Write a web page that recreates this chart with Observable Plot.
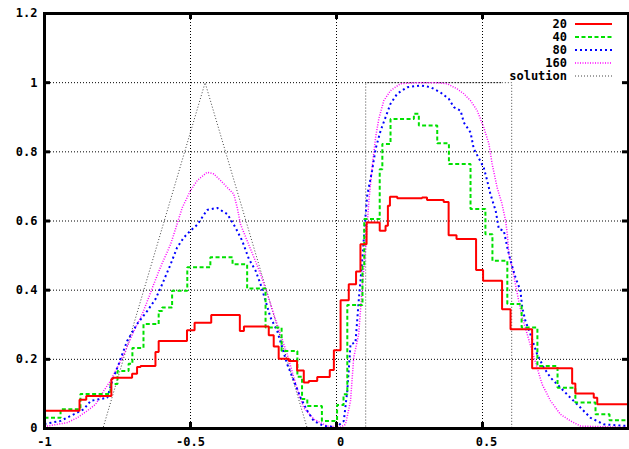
<!DOCTYPE html>
<html>
<head>
<meta charset="utf-8">
<script src="https://cdn.jsdelivr.net/npm/d3@7"></script>
<script src="https://cdn.jsdelivr.net/npm/@observablehq/plot@0.6"></script>
<style>
  html, body { margin: 0; padding: 0; background: #fff; }
  #chart svg { display: block; }
</style>
</head>
<body>
<div id="chart"></div>
<script>
// ---- data ----
const seriesNames = ["20", "40", "80", "160", "solution"];
const xTicks = [-1, -0.5, 0, 0.5, 1];
const xTickLabels = ["-1", "-0.5", "0", "0.5", "1"];
const yTicks = [0, 0.2, 0.4, 0.6, 0.8, 1, 1.2];
const yTickLabels = ["0", "0.2", "0.4", "0.6", "0.8", "1", "1.2"];

// 20: piecewise constant, [x start, value]
const s20 = [[-1,0.051],[-0.880,0.083],[-0.857,0.094],[-0.771,0.143],[-0.766,0.147],[-0.700,0.158],[-0.683,0.178],[-0.671,0.181],[-0.620,0.221],[-0.609,0.253],[-0.512,0.284],[-0.486,0.306],[-0.429,0.328],[-0.331,0.282],[-0.317,0.295],[-0.232,0.270],[-0.215,0.237],[-0.198,0.202],[-0.163,0.195],[-0.135,0.168],[-0.112,0.133],[-0.095,0.137],[-0.066,0.149],[-0.023,0.169],[-0.009,0.226],[0.014,0.371],[0.042,0.417],[0.067,0.454],[0.082,0.533],[0.103,0.596],[0.148,0.572],[0.168,0.586],[0.176,0.644],[0.183,0.670],[0.208,0.666],[0.293,0.668],[0.310,0.661],[0.367,0.655],[0.384,0.559],[0.411,0.548],[0.478,0.458],[0.502,0.427],[0.567,0.345],[0.596,0.287],[0.670,0.174],[0.807,0.130],[0.818,0.101],[0.881,0.089],[0.893,0.070],[1,0.070]];

// 40: piecewise constant
const s40 = [[-1,0.031],[-0.945,0.056],[-0.877,0.100],[-0.774,0.129],[-0.750,0.166],[-0.712,0.187],[-0.699,0.233],[-0.661,0.302],[-0.609,0.340],[-0.597,0.350],[-0.563,0.398],[-0.511,0.466],[-0.432,0.495],[-0.356,0.475],[-0.306,0.405],[-0.243,0.292],[-0.188,0.224],[-0.134,0.150],[-0.118,0.085],[-0.100,0.065],[-0.050,0.022],[0.002,0.068],[0.024,0.099],[0.037,0.357],[0.089,0.470],[0.095,0.606],[0.148,0.750],[0.157,0.823],[0.185,0.895],[0.265,0.910],[0.282,0.876],[0.345,0.825],[0.385,0.765],[0.459,0.635],[0.510,0.562],[0.534,0.485],[0.585,0.360],[0.634,0.292],[0.688,0.181],[0.757,0.118],[0.818,0.075],[0.887,0.041],[0.935,0.024],[1,0.024]];

// 80
const s80 = [[-1,0.013],[-0.945,0.022],[-0.900,0.041],[-0.865,0.056],[-0.842,0.080],[-0.785,0.089],[-0.768,0.138],[-0.746,0.186],[-0.717,0.253],[-0.683,0.302],[-0.648,0.340],[-0.620,0.374],[-0.597,0.417],[-0.568,0.475],[-0.546,0.523],[-0.523,0.552],[-0.500,0.572],[-0.477,0.589],[-0.443,0.632],[-0.409,0.638],[-0.374,0.620],[-0.346,0.581],[-0.323,0.543],[-0.300,0.490],[-0.277,0.456],[-0.260,0.417],[-0.243,0.369],[-0.226,0.321],[-0.203,0.282],[-0.186,0.234],[-0.169,0.186],[-0.146,0.138],[-0.123,0.089],[-0.100,0.051],[-0.078,0.022],[-0.043,0.007],[0.000,0.004],[0.025,0.022],[0.037,0.109],[0.048,0.244],[0.065,0.248],[0.076,0.369],[0.088,0.485],[0.099,0.610],[0.105,0.673],[0.122,0.746],[0.134,0.809],[0.151,0.861],[0.168,0.900],[0.185,0.939],[0.208,0.968],[0.242,0.987],[0.288,0.992],[0.322,0.987],[0.356,0.972],[0.385,0.953],[0.402,0.929],[0.425,0.919],[0.436,0.885],[0.459,0.856],[0.470,0.809],[0.504,0.755],[0.516,0.717],[0.527,0.678],[0.545,0.630],[0.556,0.577],[0.573,0.572],[0.585,0.523],[0.596,0.485],[0.613,0.437],[0.630,0.398],[0.636,0.350],[0.647,0.311],[0.664,0.273],[0.687,0.215],[0.710,0.176],[0.733,0.147],[0.767,0.118],[0.801,0.089],[0.836,0.060],[0.870,0.031],[0.915,0.012],[1,0.007]];

// 160
const s160 = [[-1,0.005],[-0.991,0.007],[-0.922,0.017],[-0.888,0.031],[-0.854,0.051],[-0.825,0.070],[-0.797,0.109],[-0.774,0.138],[-0.751,0.176],[-0.723,0.224],[-0.694,0.282],[-0.665,0.331],[-0.643,0.379],[-0.626,0.417],[-0.603,0.466],[-0.568,0.533],[-0.546,0.591],[-0.528,0.639],[-0.500,0.688],[-0.477,0.717],[-0.443,0.741],[-0.420,0.736],[-0.397,0.717],[-0.374,0.697],[-0.352,0.678],[-0.340,0.639],[-0.329,0.591],[-0.306,0.543],[-0.283,0.495],[-0.260,0.446],[-0.237,0.389],[-0.215,0.331],[-0.192,0.273],[-0.169,0.215],[-0.146,0.147],[-0.129,0.099],[-0.112,0.060],[-0.078,0.027],[-0.032,0.007],[0.014,0.004],[0.031,0.012],[0.048,0.080],[0.059,0.205],[0.076,0.273],[0.088,0.408],[0.099,0.514],[0.111,0.659],[0.122,0.755],[0.134,0.842],[0.145,0.896],[0.162,0.948],[0.185,0.977],[0.219,0.997],[0.276,1.000],[0.345,1.000],[0.379,0.997],[0.413,0.982],[0.436,0.968],[0.459,0.948],[0.482,0.919],[0.504,0.871],[0.522,0.823],[0.533,0.765],[0.550,0.697],[0.567,0.649],[0.579,0.601],[0.585,0.562],[0.590,0.504],[0.602,0.466],[0.613,0.417],[0.624,0.369],[0.636,0.321],[0.653,0.273],[0.670,0.224],[0.687,0.176],[0.704,0.128],[0.733,0.080],[0.767,0.041],[0.801,0.022],[0.836,0.007],[1,0.003]];

// exact solution
const solution = [[-1,0],[-0.8,0],[-0.45,1],[-0.1,0],[0.1,0],[0.1,1],[0.6,1],[0.6,0],[1,0]];

// ---- styles ----
const styles = [
  {stroke: "#ff0000", strokeWidth: 2, strokeDasharray: null},
  {stroke: "#00e000", strokeWidth: 2, strokeDasharray: "4,2.5"},
  {stroke: "#0000ff", strokeWidth: 2, strokeDasharray: "2,3"},
  {stroke: "#ff00ff", strokeWidth: 1.5, strokeDasharray: "1,1.5"},
  {stroke: "#444444", strokeWidth: 1, strokeDasharray: "1,2"}
];

const width = 629, height = 449;
const mL = 44, mR = 1, mT = 13, mB = 21;
const fw = width - mL - mR, fh = height - mT - mB;
const font = "'DejaVu Sans Mono', monospace";

const pt = d => d;
const lineOpts = (i, curve) => ({x: d => d[0], y: d => d[1], curve, ...styles[i], strokeLinejoin: "miter", strokeLinecap: "butt"});

const xNeg = xTicks.filter(d => d < 0);
const xPos = xTicks.filter(d => d >= 0);
const xLabel = d => xTickLabels[xTicks.indexOf(d)];

const chart = Plot.plot({
  width, height,
  marginLeft: mL, marginRight: mR, marginTop: mT, marginBottom: mB,
  x: {domain: [-1, 1]},
  y: {domain: [0, 1.2]},
  style: {fontFamily: font, fontSize: "12px", fontWeight: "bold", color: "#000", background: "#fff"},
  marks: [
    Plot.ruleX(xTicks.slice(1, -1), {stroke: "#000", strokeWidth: 1, strokeDasharray: "1,2"}),
    Plot.ruleY(yTicks.slice(1, -1), {stroke: "#000", strokeWidth: 1, strokeDasharray: "1,2"}),
    Plot.line(solution, lineOpts(4, "linear")),
    Plot.line(s160, lineOpts(3, "linear")),
    Plot.line(s80, lineOpts(2, "linear")),
    Plot.line(s40, lineOpts(1, "step-after")),
    Plot.line(s20, lineOpts(0, "step-after")),
    // inward ticks on all four sides
    Plot.tickY(yTicks, {y: pt, stroke: "#000", strokeWidth: 3, insetRight: fw - 6}),
    Plot.tickY(yTicks, {y: pt, stroke: "#000", strokeWidth: 3, insetLeft: fw - 6}),
    Plot.tickX(xTicks, {x: pt, stroke: "#000", strokeWidth: 3, insetTop: fh - 6}),
    Plot.tickX(xTicks, {x: pt, stroke: "#000", strokeWidth: 3, insetBottom: fh - 6}),
    Plot.frame({stroke: "#000", strokeWidth: 3}),
    Plot.axisX(xNeg, {tickSize: 0, tickPadding: 9, tickFormat: xLabel, label: null, fontFamily: font, fontWeight: "bold", fontSize: 12}),
    Plot.axisX(xPos, {tickSize: 0, tickPadding: 9, dx: 4, tickFormat: xLabel, label: null, fontFamily: font, fontWeight: "bold", fontSize: 12}),
    Plot.axisY(yTicks, {tickSize: 0, tickPadding: 7, tickFormat: (d, i) => yTickLabels[i], label: null, fontFamily: font, fontWeight: "bold", fontSize: 12})
  ]
});

document.getElementById("chart").appendChild(chart);

// ---- legend (top-right, inside the frame) ----
const svg = d3.select(chart);
const firstLine = chart.querySelector('g[aria-label="line"]');
const box = document.createElementNS("http://www.w3.org/2000/svg", "rect");
d3.select(box).attr("x", 503).attr("y", 15).attr("width", 122).attr("height", 69).attr("fill", "#fff");
chart.insertBefore(box, firstLine);

const leg = svg.append("g").attr("font-family", font).attr("font-size", 12).attr("font-weight", "bold");
seriesNames.forEach((name, i) => {
  const cy = 24 + i * 13;
  leg.append("text").attr("x", 567).attr("y", cy).attr("dy", "0.36em")
    .attr("text-anchor", "end").attr("fill", "#000").text(name);
  const s = styles[i];
  leg.append("line").attr("x1", 575).attr("x2", 612).attr("y1", cy).attr("y2", cy)
    .attr("stroke", s.stroke).attr("stroke-width", s.strokeWidth)
    .attr("stroke-dasharray", s.strokeDasharray);
});
</script>
</body>
</html>
